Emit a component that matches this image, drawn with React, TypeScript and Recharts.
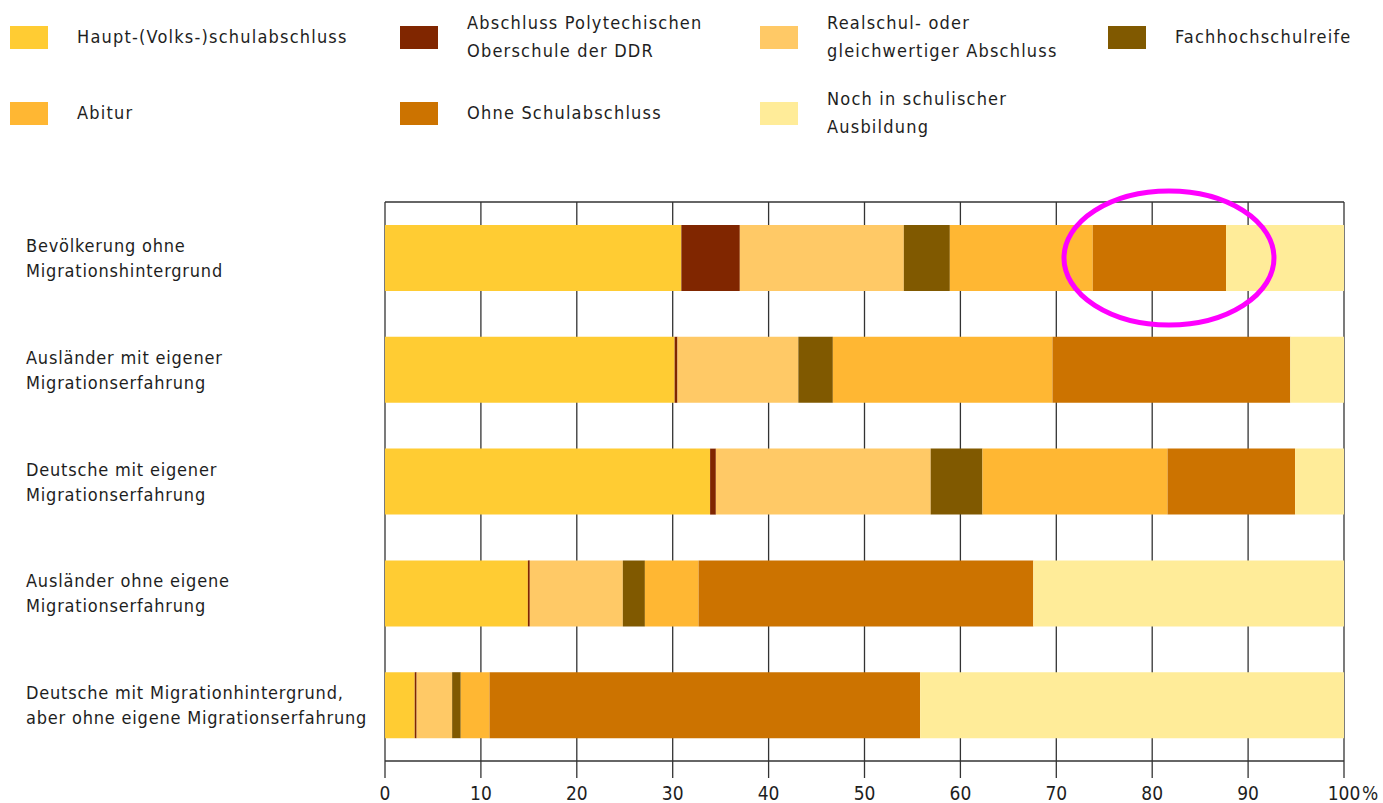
import React from "react";
import {
  BarChart,
  Bar,
  XAxis,
  YAxis,
  CartesianGrid,
  ReferenceDot,
} from "recharts";

const FONT = "'DejaVu Sans Condensed', 'DejaVu Sans', sans-serif";
const TEXT = "#1e1e1e";
const LINE = "#333333";

// categories (line breaks as in the picture)
const categories = [
  "Bevölkerung ohne\nMigrationshintergrund",
  "Ausländer mit eigener\nMigrationserfahrung",
  "Deutsche mit eigener\nMigrationserfahrung",
  "Ausländer ohne eigene\nMigrationserfahrung",
  "Deutsche mit Migrationhintergrund,\naber ohne eigene Migrationserfahrung",
];

// shares in percent, one value per category
const haupt = [30.9, 30.2, 33.9, 14.9, 3.1];
const ddr = [6.1, 0.3, 0.6, 0.2, 0.2];
const realschul = [17.1, 12.6, 22.4, 9.7, 3.7];
const fachhoch = [4.8, 3.6, 5.4, 2.3, 0.9];
const abitur = [14.9, 22.9, 19.3, 5.6, 3.0];
const ohne = [13.9, 24.8, 13.3, 34.9, 44.9];
const noch = [12.3, 5.6, 5.1, 32.4, 44.2];

const xTicks = [0, 10, 20, 30, 40, 50, 60, 70, 80, 90, 100];

// highlighted segment: "Ohne Schulabschluss", first row
const highlightCategory = categories[0];
const highlightValue = 81.75;

const series = [
  { key: "haupt", label: "Haupt-(Volks-)schulabschluss", color: "#ffcc33", values: haupt },
  { key: "ddr", label: "Abschluss Polytechischen\nOberschule der DDR", color: "#802600", values: ddr },
  { key: "realschul", label: "Realschul- oder\ngleichwertiger Abschluss", color: "#ffc966", values: realschul },
  { key: "fachhoch", label: "Fachhochschulreife", color: "#805900", values: fachhoch },
  { key: "abitur", label: "Abitur", color: "#ffb733", values: abitur },
  { key: "ohne", label: "Ohne Schulabschluss", color: "#cc7300", values: ohne },
  { key: "noch", label: "Noch in schulischer\nAusbildung", color: "#ffec99", values: noch },
];

const data = categories.map((name, i) => {
  const row: Record<string, string | number> = { name };
  series.forEach((s) => {
    row[s.key] = s.values[i];
  });
  return row;
});

// legend grid: two rows, four columns
const legendRows = [
  ["haupt", "ddr", "realschul", "fachhoch"],
  ["abitur", "ohne", "noch"],
];
const legendCols = [10, 400, 760, 1108];
const legendRowY = [37, 113];

function Legend() {
  return (
    <>
      {legendRows.map((row, r) =>
        row.map((key, c) => {
          const s = series.find((x) => x.key === key)!;
          const lines = s.label.split("\n");
          return (
            <div
              key={key}
              style={{
                position: "absolute",
                left: legendCols[c],
                top: legendRowY[r] - 30,
                height: 60,
                display: "flex",
                alignItems: "center",
              }}
            >
              <span
                style={{
                  width: 38,
                  height: 23,
                  background: s.color,
                  display: "inline-block",
                  marginRight: 29,
                }}
              />
              <span style={{ lineHeight: "28px", letterSpacing: 1.2 }}>
                {lines.map((l) => (
                  <div key={l}>{l}</div>
                ))}
              </span>
            </div>
          );
        })
      )}
    </>
  );
}

function CategoryTick(props: any) {
  const { y, payload } = props;
  const lines = String(payload.value).split("\n");
  return (
    <text x={26} y={y} fill={TEXT} fontSize={18} fontFamily={FONT} letterSpacing={0.8}>
      {lines.map((l: string, i: number) => (
        <tspan key={i} x={26} y={y + (i - (lines.length - 1) / 2) * 25 + 6.5}>
          {l}
        </tspan>
      ))}
    </text>
  );
}

function ValueTick(props: any) {
  const { x, y, payload } = props;
  return (
    <g>
      <text x={x} y={y} dy={14} textAnchor="middle" fill={TEXT} fontSize={19} fontFamily={FONT}>
        {payload.value}
      </text>
      {payload.value === 100 && (
        <text x={x + 18} y={y} dy={14} textAnchor="start" fill={TEXT} fontSize={19} fontFamily={FONT}>
          %
        </text>
      )}
    </g>
  );
}

function Ring(props: any) {
  const { cx, cy } = props;
  return (
    <ellipse cx={cx} cy={cy} rx={105} ry={67} fill="none" stroke="#ff00ff" strokeWidth={5} />
  );
}

export default function App() {
  return (
    <div
      style={{
        position: "absolute",
        left: 0,
        top: 0,
        width: 1383,
        height: 803,
        background: "#fff",
        fontFamily: FONT,
        fontSize: 18,
        color: TEXT,
        overflow: "hidden",
      }}
    >
      <Legend />
      <div style={{ position: "absolute", left: 0, top: 0 }}>
        <BarChart
          width={1383}
          height={803}
          data={data}
          layout="vertical"
          barSize={66}
          margin={{ top: 200, right: 39, bottom: 0, left: 0 }}
        >
          <CartesianGrid horizontal={false} stroke={LINE} strokeWidth={1.3} />
          <XAxis
            xAxisId="top"
            type="number"
            orientation="top"
            domain={[0, 100]}
            height={2}
            tick={false}
            tickLine={false}
            axisLine={{ stroke: LINE, strokeWidth: 1.5 }}
          />
          <XAxis
            type="number"
            domain={[0, 100]}
            ticks={xTicks}
            interval={0}
            height={42}
            tickSize={17}
            tickMargin={8}
            tick={<ValueTick />}
            tickLine={{ stroke: LINE, strokeWidth: 1.3 }}
            axisLine={{ stroke: LINE, strokeWidth: 1.3 }}
          />
          <YAxis
            type="category"
            dataKey="name"
            width={385}
            axisLine={false}
            tickLine={false}
            tick={<CategoryTick />}
            interval={0}
          />
          {series.map((s) => (
            <Bar
              key={s.key}
              dataKey={s.key}
              stackId="a"
              fill={s.color}
              isAnimationActive={false}
            />
          ))}
          <ReferenceDot
            x={highlightValue}
            y={highlightCategory}
            r={1}
            ifOverflow="visible"
            shape={<Ring />}
          />
        </BarChart>
      </div>
    </div>
  );
}
